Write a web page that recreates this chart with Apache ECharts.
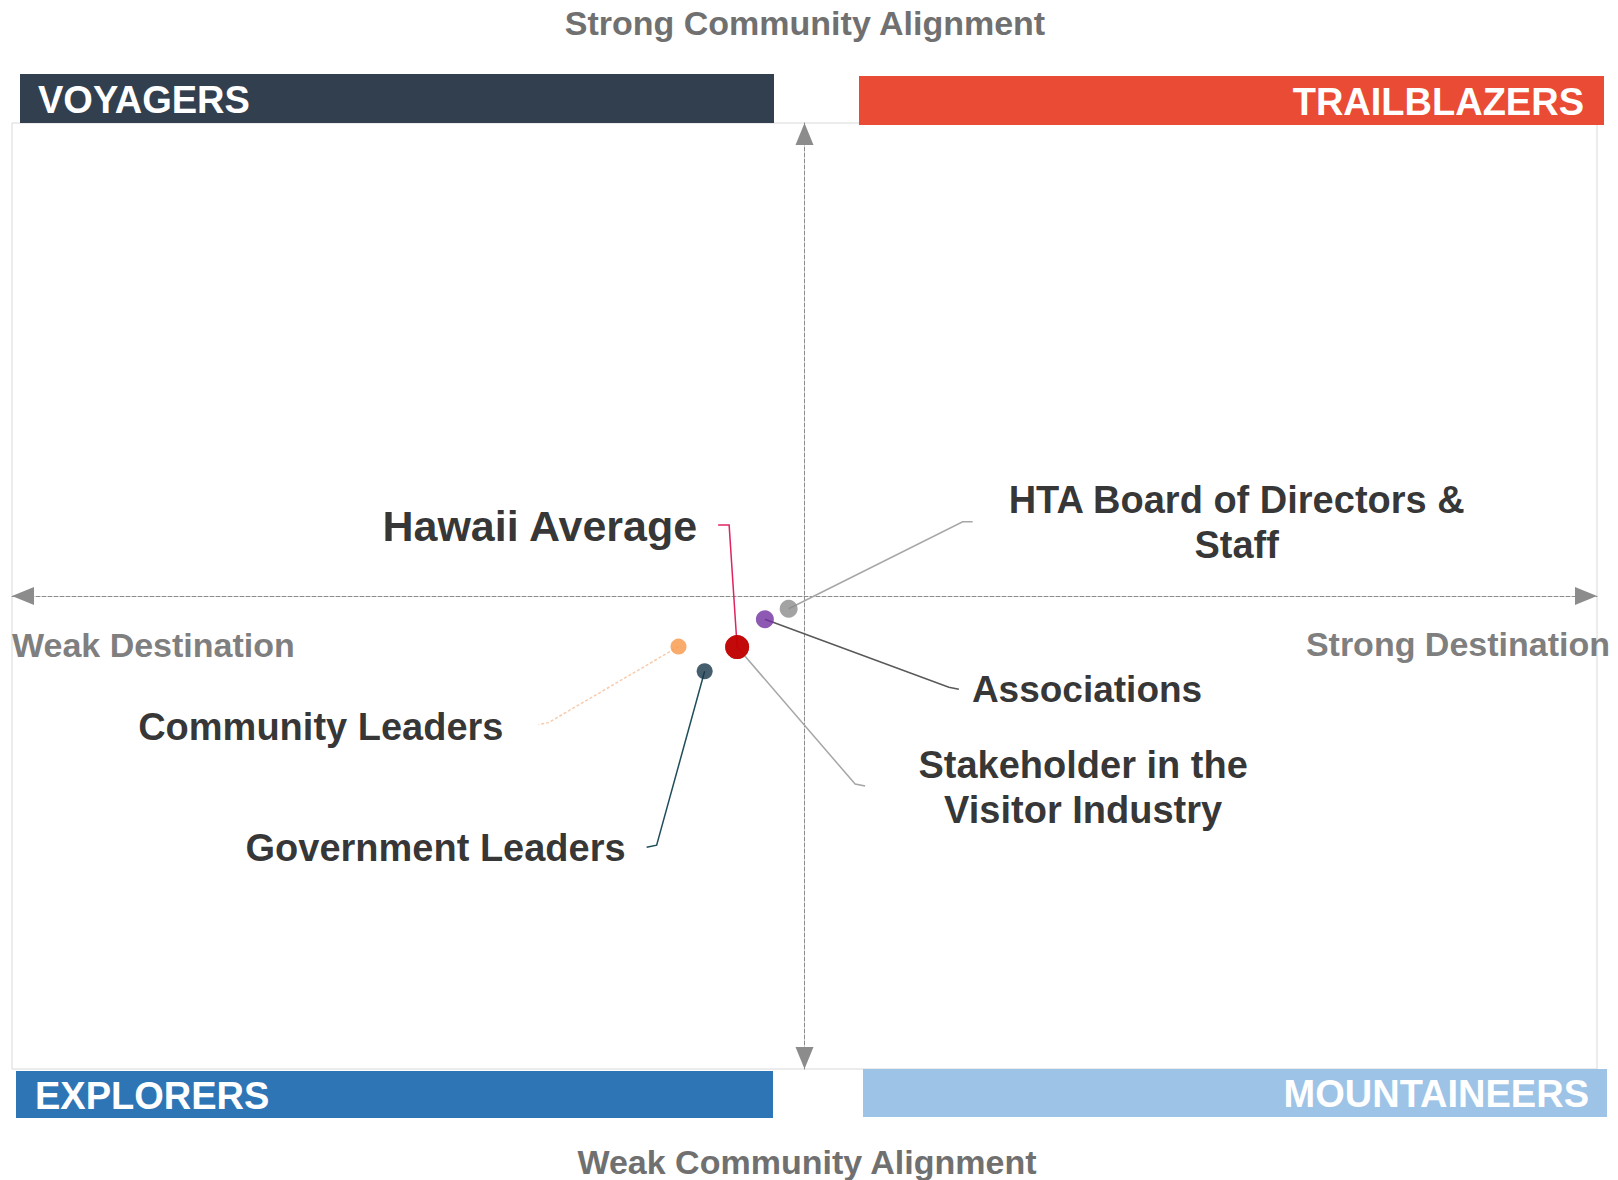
<!DOCTYPE html>
<html>
<head>
<meta charset="utf-8">
<title>Destination strength vs community alignment</title>
<script src="https://cdn.jsdelivr.net/npm/echarts@6/dist/echarts.min.js"></script>
<style>
    html, body { margin: 0; padding: 0; background: #fff; }
    #main { width: 1618px; height: 1180px; }
</style>
</head>
<body>
<div id="main"></div>
<script>
// groups and their scores (x = destination strength, y = community alignment)
var groups = ['Community Leaders', 'Government Leaders', 'Stakeholder in the\nVisitor Industry', 'Associations', 'HTA Board of Directors &\nStaff', 'Hawaii Average'];
var destination = [-15.9, -12.6, -8.5, -5.0, -2.0, -8.5];
var community = [-10.7, -15.9, -10.8, -4.9, -2.7, -10.8];

var axisMin = -100;
var axisMax = 100;

var quadrantNames = ['VOYAGERS', 'TRAILBLAZERS', 'EXPLORERS', 'MOUNTAINEERS'];
var axisEnds = ['Strong Community Alignment', 'Weak Community Alignment', 'Weak Destination', 'Strong Destination'];

// styles
var font = '"Liberation Sans", Arial, sans-serif';
var dotColors = ['#f79646', '#17364a', '#c00000', '#7030a0', '#8c8c8c', '#c00000'];
var dotSizes = [16, 16, 24, 18, 18, 24];
var leaderColors = ['#f8cbad', '#1f4e5a', '#a6a6a6', '#595959', '#a6a6a6', '#e0245e'];
var leaderTypes = [[3, 2], 'solid', 'solid', 'solid', 'solid', 'solid'];
var labelSizes = [38, 38, 38, 37, 38, 43];
// label placement, offsets in px from the dot centre
var labelSpots = [
    {bend: [-130, 76], end: [-140, 78], text: [-175, 80], align: 'right'},
    {bend: [-48, 174], end: [-58, 176], text: [-79, 177], align: 'right'},
    {bend: [118, 137], end: [128, 139], text: [346, 140], align: 'center'},
    {bend: [184, 68], end: [194, 70], text: [207, 70], align: 'left'},
    {bend: [174, -87], end: [184, -87], text: [448, -86], align: 'center'},
    {bend: [-8, -122], end: [-19, -122], text: [-40, -121], align: 'right'}
];

var bandBoxes = [
    {x: 20, y: 74, w: 754, h: 49, color: '#323f4f', tx: 38, align: 'left'},
    {x: 859, y: 76, w: 745, h: 49, color: '#ea4b35', tx: 1584, align: 'right'},
    {x: 16, y: 1071, w: 757, h: 47, color: '#2e75b6', tx: 35, align: 'left'},
    {x: 863, y: 1069, w: 744, h: 48, color: '#9dc3e6', tx: 1589, align: 'right'}
];
var endSpots = [
    {x: 805, y: 23, align: 'center'},
    {x: 807, y: 1162, align: 'center'},
    {x: 12, y: 645, align: 'left'},
    {x: 1610, y: 644, align: 'right'}
];

var points = [];
var anchors = [];
for (var i = 0; i < groups.length; i++) {
    points.push({
        name: groups[i],
        value: [destination[i], community[i]],
        symbolSize: dotSizes[i],
        itemStyle: {color: dotColors[i]},
        label: {fontSize: labelSizes[i], color: '#000'}
    });
    anchors.push([destination[i], community[i]]);
}

var graphics = [];
for (var k = 0; k < quadrantNames.length; k++) {
    var b = bandBoxes[k];
    graphics.push({
        type: 'rect', z: 20,
        shape: {x: b.x, y: b.y, width: b.w, height: b.h},
        style: {fill: b.color}
    });
    graphics.push({
        type: 'text', z: 21, x: b.tx, y: b.y + b.h / 2 + 1,
        style: {text: quadrantNames[k], fill: '#fff', fontSize: 38, fontWeight: 'bold', fontFamily: font,
            align: b.align, verticalAlign: 'middle'}
    });
}
for (var j = 0; j < axisEnds.length; j++) {
    var e = endSpots[j];
    graphics.push({
        type: 'text', z: 21, x: e.x, y: e.y,
        style: {text: axisEnds[j], fill: j < 2 ? '#707070' : '#7f7f7f', fontSize: 34, fontWeight: 'bold',
            fontFamily: font, align: e.align, verticalAlign: 'middle'}
    });
}

var axisLineCfg = {
    onZero: true,
    symbol: ['triangle', 'triangle'],
    symbolSize: [18, 22],
    symbolOffset: [11, -11],
    lineStyle: {color: '#8c8c8c', width: 1, type: [4, 2]}
};

var option = {
    backgroundColor: '#fff',
    animation: false,
    grid: {
        left: 12, right: 21, top: 123, bottom: 111,
        show: true, borderColor: '#d9d9d9', borderWidth: 1
    },
    xAxis: {
        type: 'value', min: axisMin, max: axisMax,
        axisLine: axisLineCfg,
        axisTick: {show: false}, axisLabel: {show: false}, splitLine: {show: false}
    },
    yAxis: {
        type: 'value', min: axisMin, max: axisMax,
        axisLine: axisLineCfg,
        axisTick: {show: false}, axisLabel: {show: false}, splitLine: {show: false}
    },
    graphic: graphics,
    series: [{
        // leader lines, anchored on each dot
        type: 'custom',
        z: 3,
        silent: true,
        data: anchors,
        renderItem: function (params, api) {
            var pt = api.coord([api.value(0), api.value(1)]);
            var s = labelSpots[params.dataIndex];
            return {
                type: 'polyline',
                shape: {points: [pt, [pt[0] + s.bend[0], pt[1] + s.bend[1]], [pt[0] + s.end[0], pt[1] + s.end[1]]]},
                style: {
                    stroke: leaderColors[params.dataIndex],
                    lineWidth: 1.5,
                    lineDash: leaderTypes[params.dataIndex] === 'solid' ? null : leaderTypes[params.dataIndex],
                    fill: 'none'
                }
            };
        }
    }, {
        type: 'scatter',
        z: 5,
        data: points,
        label: {
            show: true,
            position: 'right',
            formatter: '{b}',
            color: '#000',
            textBorderWidth: 0,
            fontWeight: 'bold',
            fontFamily: font,
            lineHeight: 45
        },
        labelLayout: function (p) {
            var s = labelSpots[p.dataIndex];
            var cx = p.rect.x + p.rect.width / 2;
            var cy = p.rect.y + p.rect.height / 2;
            return {
                x: cx + s.text[0],
                y: cy + s.text[1],
                align: s.align,
                verticalAlign: 'middle'
            };
        }
    }]
};

var chart = echarts.init(document.getElementById('main'), null, {renderer: 'svg'});
chart.setOption(option);
</script>
</body>
</html>
